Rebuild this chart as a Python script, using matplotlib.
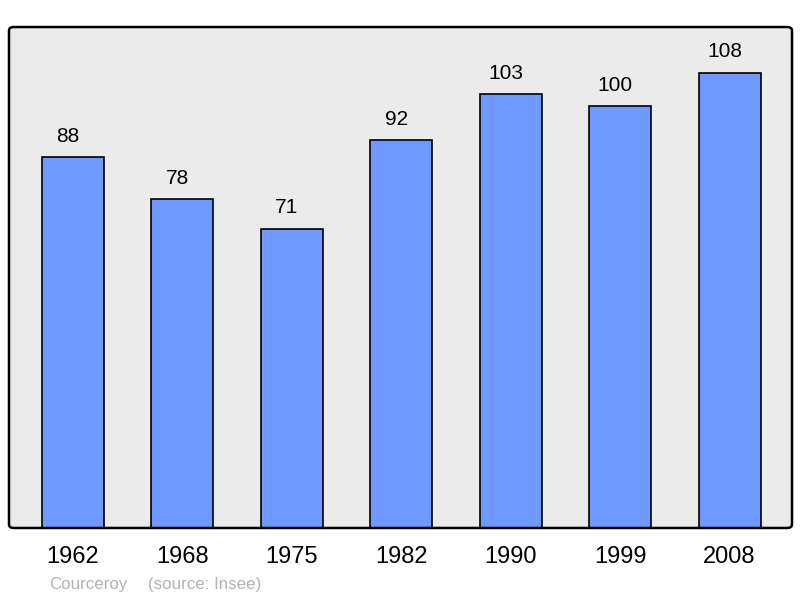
import matplotlib.pyplot as plt
from matplotlib.patches import FancyBboxPatch

# donnees population
annees = ['1962', '1968', '1975', '1982', '1990', '1999', '2008']
population = [88, 78, 71, 92, 103, 100, 108]

plt.rcParams['font.family'] = ['Liberation Sans', 'DejaVu Sans']

fig = plt.figure(figsize=(8, 5.98), dpi=100)
ax = fig.add_axes([0.01125, 0.1171, 0.97875, 0.8377])
ax.set_facecolor('#ebebeb')

x = range(len(annees))
barres = ax.bar(x, population, width=0.567, color='#7099ff', edgecolor='black', linewidth=1.2)
# etiquettes un peu decalees a gauche comme sur l'original
for b, v in zip(barres, population):
    ax.annotate(str(v), (b.get_x() + b.get_width() / 2, v), xytext=(-3.6, 8),
                textcoords='offset points', ha='center', va='bottom', fontsize=15)

ax.set_xlim(-0.585, 6.57)
ax.set_ylim(0, 118.8)
ax.set_xticks(list(x))
ax.set_xticklabels(annees, fontsize=17)
ax.tick_params(axis='x', length=0, pad=13)
ax.set_yticks([])
for s in ax.spines.values():
    s.set_visible(False)

# cadre arrondi
cadre = FancyBboxPatch((0.01125, 0.1171), 0.97875, 0.8377, boxstyle='round,pad=0,rounding_size=0.006',
                       transform=fig.transFigure, fill=False, edgecolor='black', linewidth=1.8)
fig.patches.append(cadre)

fig.text(49 / 800, 1 - 584 / 598, 'Courceroy', color='#b3b3b3', fontsize=12.2, va='center')
fig.text(148 / 800, 1 - 584 / 598, '(source: Insee)', color='#b3b3b3', fontsize=12.2, va='center')

fig.savefig('out.png', dpi=100)
